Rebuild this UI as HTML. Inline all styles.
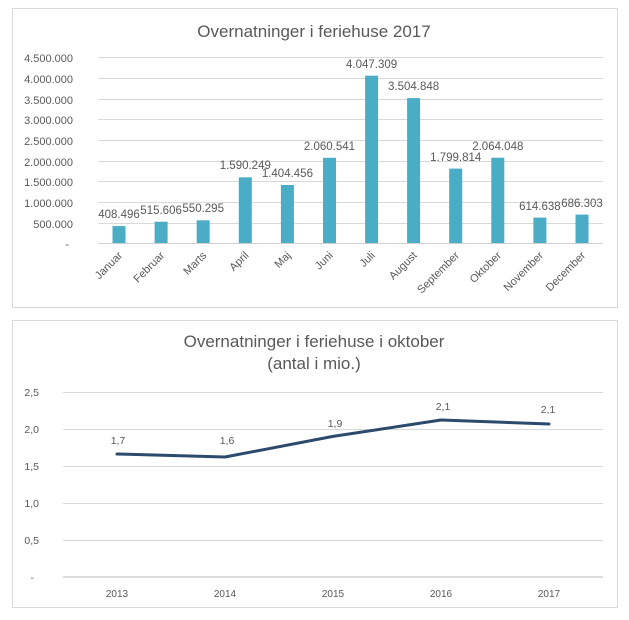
<!DOCTYPE html>
<html>
<head>
<meta charset="utf-8">
<style>
  html,body{margin:0;padding:0;background:#fff;}
  svg{display:block;}
  text{font-family:"Liberation Sans",Arial,sans-serif;fill:#595959;}
</style>
</head>
<body>
<svg width="629" height="620" viewBox="0 0 629 620" xmlns="http://www.w3.org/2000/svg">
  <rect x="0" y="0" width="629" height="620" fill="#fff"/>

  <!-- ============ CHART 1 ============ -->
  <rect x="12.5" y="8.5" width="605" height="299" fill="#fff" stroke="#d9d9d9" stroke-width="1"/>
  <text x="314" y="37" font-size="17" text-anchor="middle">Overnatninger i feriehuse 2017</text>

  <!-- gridlines -->
  <g stroke="#d9d9d9" stroke-width="1">
    <line x1="98" y1="57.5" x2="603" y2="57.5"/>
    <line x1="98" y1="78.5" x2="603" y2="78.5"/>
    <line x1="98" y1="99.5" x2="603" y2="99.5"/>
    <line x1="98" y1="119.5" x2="603" y2="119.5"/>
    <line x1="98" y1="140.5" x2="603" y2="140.5"/>
    <line x1="98" y1="161.5" x2="603" y2="161.5"/>
    <line x1="98" y1="181.5" x2="603" y2="181.5"/>
    <line x1="98" y1="202.5" x2="603" y2="202.5"/>
    <line x1="98" y1="223.5" x2="603" y2="223.5"/>
  </g>
  <line x1="98" y1="243.5" x2="603" y2="243.5" stroke="#d0d0d0" stroke-width="1"/>

  <!-- y labels -->
  <g font-size="11" text-anchor="end">
    <text x="73" y="62">4.500.000</text>
    <text x="73" y="83">4.000.000</text>
    <text x="73" y="104">3.500.000</text>
    <text x="73" y="124">3.000.000</text>
    <text x="73" y="145">2.500.000</text>
    <text x="73" y="166">2.000.000</text>
    <text x="73" y="186">1.500.000</text>
    <text x="73" y="207">1.000.000</text>
    <text x="73" y="228">500.000</text>
    <text x="69" y="248">-</text>
  </g>

  <!-- bars -->
  <g fill="#4bacc6">
    <rect x="112.5" y="226.1" width="13" height="16.9"/>
    <rect x="154.6" y="221.7" width="13" height="21.3"/>
    <rect x="196.7" y="220.3" width="13" height="22.7"/>
    <rect x="238.8" y="177.3" width="13" height="65.7"/>
    <rect x="280.9" y="185.0" width="13" height="58.0"/>
    <rect x="323.0" y="157.8" width="13" height="85.2"/>
    <rect x="365.1" y="75.7" width="13" height="167.3"/>
    <rect x="407.1" y="98.1" width="13" height="144.9"/>
    <rect x="449.2" y="168.6" width="13" height="74.4"/>
    <rect x="491.3" y="157.7" width="13" height="85.3"/>
    <rect x="533.4" y="217.6" width="13" height="25.4"/>
    <rect x="575.5" y="214.6" width="13" height="28.4"/>
  </g>

  <!-- data labels -->
  <g font-size="11.5" text-anchor="middle">
    <text x="119" y="218">408.496</text>
    <text x="161.1" y="214">515.606</text>
    <text x="203.2" y="212">550.295</text>
    <text x="245.3" y="169">1.590.249</text>
    <text x="287.4" y="177">1.404.456</text>
    <text x="329.5" y="150">2.060.541</text>
    <text x="371.6" y="68">4.047.309</text>
    <text x="413.6" y="90">3.504.848</text>
    <text x="455.7" y="161">1.799.814</text>
    <text x="497.8" y="150">2.064.048</text>
    <text x="539.9" y="210">614.638</text>
    <text x="582" y="207">686.303</text>
  </g>

  <!-- x labels rotated -->
  <g font-size="11" text-anchor="end">
    <text transform="translate(123,256) rotate(-45)">Januar</text>
    <text transform="translate(165.1,256) rotate(-45)">Februar</text>
    <text transform="translate(207.2,256) rotate(-45)">Marts</text>
    <text transform="translate(249.3,256) rotate(-45)">April</text>
    <text transform="translate(291.4,256) rotate(-45)">Maj</text>
    <text transform="translate(333.5,256) rotate(-45)">Juni</text>
    <text transform="translate(375.6,256) rotate(-45)">Juli</text>
    <text transform="translate(417.6,256) rotate(-45)">August</text>
    <text transform="translate(459.7,256) rotate(-45)">September</text>
    <text transform="translate(501.8,256) rotate(-45)">Oktober</text>
    <text transform="translate(543.9,256) rotate(-45)">November</text>
    <text transform="translate(586,256) rotate(-45)">December</text>
  </g>

  <!-- ============ CHART 2 ============ -->
  <rect x="12.5" y="320.5" width="605" height="287" fill="#fff" stroke="#d9d9d9" stroke-width="1"/>
  <text x="314" y="347" font-size="17" text-anchor="middle">Overnatninger i feriehuse i oktober</text>
  <text x="314" y="369" font-size="17" text-anchor="middle">(antal i mio.)</text>

  <g stroke="#d9d9d9" stroke-width="1">
    <line x1="63" y1="392.5" x2="603" y2="392.5"/>
    <line x1="63" y1="429.5" x2="603" y2="429.5"/>
    <line x1="63" y1="466.5" x2="603" y2="466.5"/>
    <line x1="63" y1="503.5" x2="603" y2="503.5"/>
    <line x1="63" y1="540.5" x2="603" y2="540.5"/>
  </g>
  <line x1="63" y1="577" x2="603" y2="577" stroke="#d0d0d0" stroke-width="1.5"/>

  <g font-size="10.5" text-anchor="end">
    <text x="39" y="396">2,5</text>
    <text x="39" y="433">2,0</text>
    <text x="39" y="470">1,5</text>
    <text x="39" y="507">1,0</text>
    <text x="39" y="544">0,5</text>
    <text x="34" y="581">-</text>
  </g>

  <g font-size="10" text-anchor="middle">
    <text x="117" y="597">2013</text>
    <text x="225" y="597">2014</text>
    <text x="333" y="597">2015</text>
    <text x="441" y="597">2016</text>
    <text x="549" y="597">2017</text>
  </g>

  <polyline points="117,454 225,457 333,436.4 441,420 549,424" fill="none" stroke="#2c4a6b" stroke-width="3" stroke-linejoin="round" stroke-linecap="round"/>

  <g font-size="10.5" text-anchor="middle">
    <text x="118" y="444">1,7</text>
    <text x="227" y="444">1,6</text>
    <text x="335" y="427">1,9</text>
    <text x="443" y="410">2,1</text>
    <text x="548" y="413">2,1</text>
  </g>
</svg>
</body>
</html>
